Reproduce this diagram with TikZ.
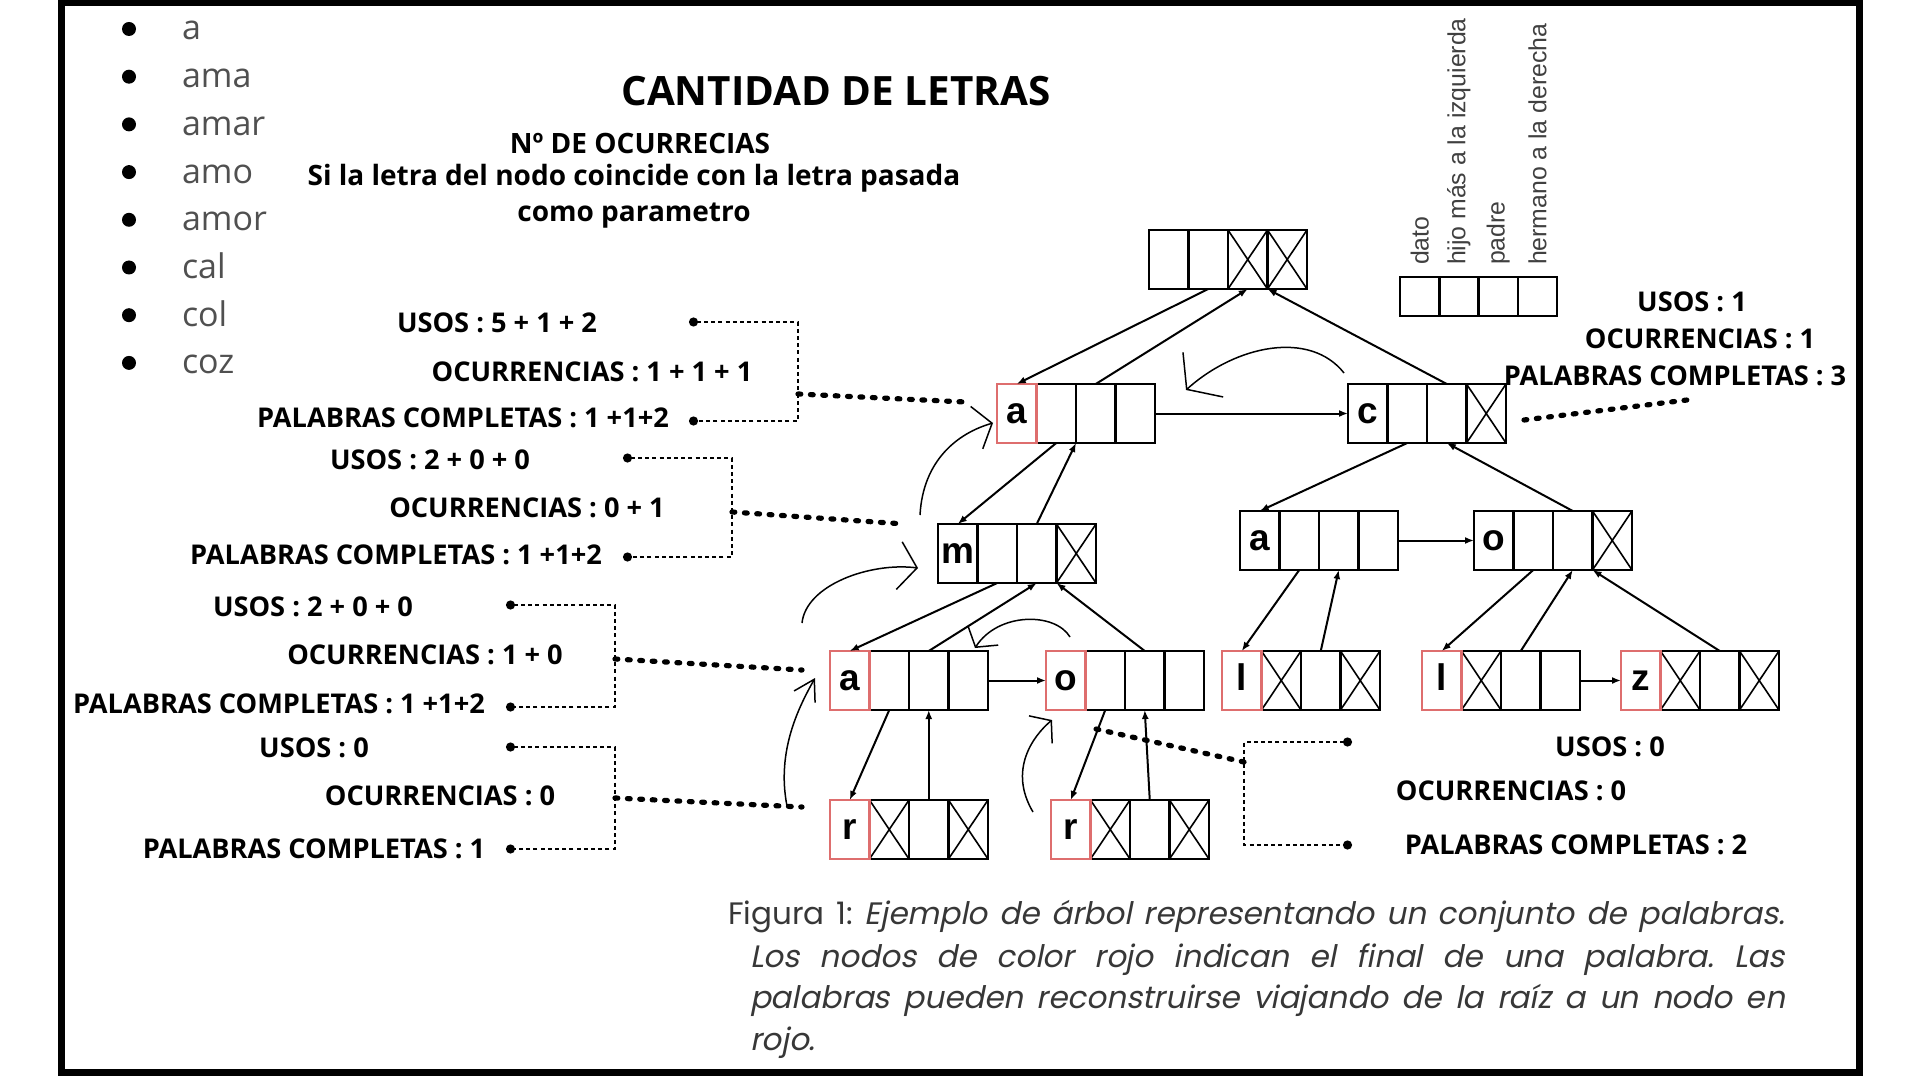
\documentclass[tikz,border=0pt]{standalone}
\usepackage{fontspec}
\setmainfont{Open Sans}
\newfontfamily\celdafont{Liberation Sans}
\newfontfamily\piefont{Poppins}[ItalicFont=Poppins,ItalicFeatures={FakeSlant=0.2}]
\usetikzlibrary{arrows.meta,positioning}
\definecolor{rojofin}{RGB}{222,110,110}
\definecolor{grispalabra}{RGB}{80,80,80}
\definecolor{grispie}{RGB}{55,55,55}
\frenchspacing
\tikzset{
  celda/.style={draw,line width=1.2pt,minimum width=19.75pt,minimum height=29.5pt,inner sep=0pt,outer sep=0pt},
  campo/.style={draw,line width=1.2pt,minimum width=19.6pt,minimum height=19.5pt,inner sep=0pt,outer sep=0pt},
  letra/.style={font=\celdafont\bfseries\fontsize{18.5}{18.5}\selectfont,inner sep=0pt,text height=10pt,text depth=0pt},
  nombrecampo/.style={rotate=90,anchor=west,inner sep=0pt,text=black!75,font=\celdafont\fontsize{12.4}{12.4}\selectfont},
  cruz/.style={line width=.8pt},
  fin/.style={draw=rojofin,line width=1.1pt},
  conteo/.style={font=\bfseries\fontsize{13.6}{13.6}\selectfont,inner sep=0pt},
  subtitulo/.style={font=\bfseries\fontsize{14}{14}\selectfont,inner sep=0pt},
  guia/.style={line width=1.2pt,dash pattern=on 2pt off 1.6pt,arrows={Circle[length=4.5pt]-Circle[length=4.5pt]}},
  gordo/.style={line width=2.6pt,dash pattern=on 1.4pt off 4.8pt,line cap=round},
  giro/.style={line width=.75pt,arrows={-Straight Barb[length=7pt,width=18pt]}},
  punto/.style={circle,fill,inner sep=0pt,minimum size=7pt},
  palabra/.style={font=\fontsize{17}{17}\selectfont,text=grispalabra,inner sep=0pt,anchor=base west},
  pie/.style={font=\piefont\fontsize{15.5}{19}\selectfont,text=grispie,inner sep=0pt,anchor=base west},
}
\begin{document}
\begin{tikzpicture}[x=.5pt,y=-.5pt,line width=1pt,>={Latex[length=4.5pt,width=3.5pt]}]
\useasboundingbox (0,0) rectangle (1920,1080);
\draw[line width=3.5pt] (61,3) rectangle (1859,1072);
% lista de palabras
\foreach \t [count=\i] in {a,ama,amar,amo,amor,cal,col,coz}{
  \node[punto] (p-\i) at (129,{29+47.7*(\i-1)}) {};
  \node[palabra] (w-\i) at (181,{40+47.7*(\i-1)}) {\t};
}
\node[font=\bfseries\fontsize{20.2}{20.2}\selectfont] (titulo) at (836,91) {CANTIDAD DE LETRAS};
\node[subtitulo] (sub-1) at (640,143) {Nº DE OCURRECIAS};
\node[subtitulo] (sub-2) at (634,178) {Si la letra del nodo coincide con la letra pasada};
\node[subtitulo] (sub-3) at (634,216) {como parametro};
% campos del nodo
\foreach \k/\t in {1/dato,2/hijo más a la izquierda,3/padre,4/hermano a la derecha}{
  \node[campo] (campo-\k) at (1400+\k*39.25-19.6,296.5) {};
  \node[nombrecampo] (nombre-\k) at (1400+\k*39.25-19.6,266) {\t};
}
% nodos del arbol
\foreach \n/\x/\y in {raiz/1149/230,a1/997/384,c/1348/384,m/938/524,a3/1240/511,o3/1474/511,a2/830/651,o2/1046/651,l1/1222/651,l2/1422/651,z/1621/651,r1/830/800,r2/1051/800}
  \foreach \k in {1,...,4}
    \node[celda] (\n-\k) at (\x+\k*39.5-19.75,\y+29.5) {};
\foreach \n/\l in {a1/a,c/c,m/m,a3/a,o3/o,a2/a,o2/o,l1/l,l2/l,z/z,r1/r,r2/r}
  \node[letra] (\n-t) at (\n-1) {\l};
\foreach \c in {raiz-3,raiz-4,c-4,m-4,o3-4,l1-2,l1-4,l2-2,z-2,z-4,r1-2,r1-4,r2-2,r2-4}
  \draw[cruz] (\c.north west) -- (\c.south east) (\c.south west) -- (\c.north east);
\foreach \n in {a1,a2,o2,l1,l2,z,r1,r2}
  \draw[fin] (\n-1.north west) rectangle (\n-1.south east);
\foreach \a/\b in {raiz-2.south/a1-1.north,a1-3.north/raiz-3.south,c-3.north/raiz-4.south west,a1-4.east/c-1.west,
  a1-2.south/m-1.north,m-3.north/a1-2.south east,c-2.south/a3-1.north,o3-3.north/c-3.south,a3-4.east/o3-1.west,
  m-2.south/a2-1.north,a2-3.north/m-3.south,o2-3.north/m-4.south west,a2-4.east/o2-1.west,
  a3-2.south/l1-1.north,l1-3.north/a3-3.south,o3-2.south/l2-1.north,l2-3.north/o3-3.south,z-3.north/o3-4.south west,l2-4.east/z-1.west,
  a2-2.south/r1-1.north,r1-3.north/a2-3.south,o2-2.south/r2-1.north,r2-3.north/o2-3.south}
  \draw[->] (\a) -- (\b);
% recorrido
\coordinate (v1-a) at (1344,373); \coordinate (v1-b) at (1186,390);
\draw[giro,arrows={-Straight Barb[length=11pt,width=30pt]}] (v1-a) .. controls (1310,330) and (1236,345) .. (v1-b);
\coordinate (v2-a) at (920,515); \coordinate (v2-b) at (993,423);
\draw[giro,arrows={-Straight Barb[length=8pt,width=22pt]}] (v2-a) .. controls (923,460) and (958,433) .. (v2-b);
\coordinate (v3-a) at (802,623); \coordinate (v3-b) at (918,568);
\draw[giro,arrows={-Straight Barb[length=9pt,width=24pt]}] (v3-a) .. controls (806,585) and (870,562) .. (v3-b);
\coordinate (v4-a) at (1070,637); \coordinate (v4-b) at (975,648);
\draw[giro] (v4-a) .. controls (1055,612) and (998,612) .. (v4-b);
\coordinate (v5-a) at (787,806); \coordinate (v5-b) at (815,678);
\draw[giro,arrows={-Straight Barb[length=10pt,width=12pt]}] (v5-a) .. controls (776,750) and (800,705) .. (v5-b);
\coordinate (v6-a) at (1033,812); \coordinate (v6-b) at (1052,720);
\draw[giro] (v6-a) .. controls (1008,770) and (1033,736) .. (v6-b);
% contadores
\node[conteo] (usos-1) at (497,323) {USOS : 5 + 1 + 2};
\node[conteo] (ocur-1) at (592,372) {OCURRENCIAS : 1 + 1 + 1};
\node[conteo] (pal-1) at (463,418) {PALABRAS COMPLETAS : 1 +1+2};
\node[conteo] (usos-2) at (430,460) {USOS : 2 + 0 + 0};
\node[conteo] (ocur-2) at (527,508) {OCURRENCIAS : 0 + 1};
\node[conteo] (pal-2) at (396,555) {PALABRAS COMPLETAS : 1 +1+2};
\node[conteo] (usos-3) at (313,607) {USOS : 2 + 0 + 0};
\node[conteo] (ocur-3) at (425,655) {OCURRENCIAS : 1 + 0};
\node[conteo] (pal-3) at (279,704) {PALABRAS COMPLETAS : 1 +1+2};
\node[conteo] (usos-4) at (314,748) {USOS : 0};
\node[conteo] (ocur-4) at (440,796) {OCURRENCIAS : 0};
\node[conteo] (pal-4) at (314,849) {PALABRAS COMPLETAS : 1};
\node[conteo] (usos-5) at (1692,302) {USOS : 1};
\node[conteo] (ocur-5) at (1700,339) {OCURRENCIAS : 1};
\node[conteo] (pal-5) at (1675,376) {PALABRAS COMPLETAS : 3};
\node[conteo] (usos-6) at (1610,747) {USOS : 0};
\node[conteo] (ocur-6) at (1511,791) {OCURRENCIAS : 0};
\node[conteo] (pal-6) at (1576,845) {PALABRAS COMPLETAS : 2};
\foreach \i/\xa/\xb/\ya/\yb/\ym/\xe/\ye in {1/689/798/322/421/394/965/402,2/623/732/458/557/512/904/524,3/506/615/605/707/659/802/670,4/506/615/747/849/798/802/807,6/1352/1244/742/845/762/1096/729}{
  \coordinate (g\i-a) at (\xa,\ya);
  \coordinate (g\i-b) at (\xa,\yb);
  \coordinate (g\i-m) at (\xb,\ym);
  \coordinate (g\i-e) at (\xe,\ye);
  \draw[guia] (g\i-a) -| (g\i-m) |- (g\i-b);
  \draw[gordo] (g\i-m) -- (g\i-e);
}
\coordinate (g5-m) at (1524,420); \coordinate (g5-e) at (1687,400);
\draw[gordo] (g5-m) -- (g5-e);
% pie de figura
\node[pie] (pie-1) at (727,924) {\makebox[528.5pt][s]{Figura 1: \textit{Ejemplo de árbol representando un conjunto de palabras.}}};
\node[pie] (pie-2) at (749,967) {\makebox[517.5pt][s]{\textit{Los nodos de color rojo indican el final de una palabra. Las}}};
\node[pie] (pie-3) at (749,1008) {\makebox[517.5pt][s]{\textit{palabras pueden reconstruirse viajando de la raíz a un nodo en}}};
\node[pie] (pie-4) at (749,1050) {\textit{rojo.}};
\end{tikzpicture}
\end{document}
